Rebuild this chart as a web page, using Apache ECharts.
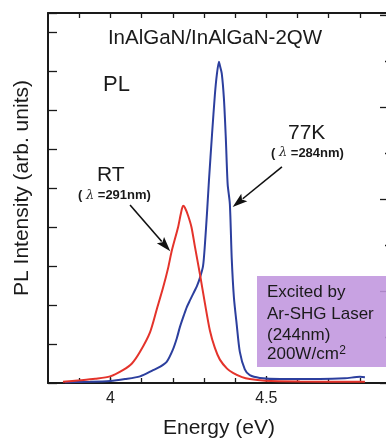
<!DOCTYPE html>
<html>
<head>
<meta charset="utf-8">
<script src="https://cdn.jsdelivr.net/npm/echarts@6/dist/echarts.min.js"></script>
<style>
  html, body { margin: 0; padding: 0; background: #ffffff; }
  #chart { width: 386px; height: 441px; }
</style>
</head>
<body>
<div id="chart"></div>
<script>
// Room-temperature PL spectrum: photon energy (eV) and intensity (arb. units)
const rtEnergy = [3.848, 3.903, 3.951, 3.999, 4.040, 4.069, 4.095, 4.127, 4.149, 4.169, 4.185,
  4.197, 4.217, 4.226, 4.233, 4.239, 4.249, 4.260, 4.271, 4.287, 4.303, 4.319, 4.335, 4.351,
  4.374, 4.393, 4.422, 4.447, 4.495, 4.608, 4.816];
const rtIntensity = [0.03, 0.07, 0.11, 0.17, 0.33, 0.50, 0.80, 1.30, 1.90, 2.45, 2.95,
  3.40, 4.00, 4.35, 4.55, 4.50, 4.30, 4.00, 3.50, 2.80, 2.05, 1.35, 0.90, 0.60,
  0.37, 0.26, 0.15, 0.10, 0.06, 0.04, 0.03];

// 77 K PL spectrum
const lt77Energy = [3.854, 3.935, 3.999, 4.047, 4.095, 4.137, 4.160, 4.181, 4.200, 4.213, 4.223,
  4.236, 4.245, 4.255, 4.266, 4.278, 4.287, 4.297, 4.303, 4.310, 4.316, 4.326, 4.335, 4.341,
  4.348, 4.351, 4.357, 4.364, 4.370, 4.376, 4.383, 4.389, 4.396, 4.405, 4.415, 4.431, 4.447,
  4.479, 4.544, 4.672, 4.752, 4.800, 4.816];
const lt77Intensity = [0.02, 0.03, 0.05, 0.10, 0.17, 0.33, 0.42, 0.55, 0.85, 1.15, 1.44,
  1.75, 1.95, 2.12, 2.30, 2.50, 2.70, 3.00, 3.55, 4.40, 5.20, 6.40, 7.40, 7.90,
  8.25, 8.15, 7.95, 7.30, 6.30, 5.10, 4.60, 3.20, 2.20, 1.50, 0.80, 0.35, 0.20,
  0.13, 0.10, 0.10, 0.12, 0.16, 0.15];

// Energy axis ticks and labels
const xTickValues = [3.9, 4.0, 4.1, 4.2, 4.3, 4.4, 4.5, 4.6, 4.7, 4.8];
const xLabelValues = [4.0, 4.5];

// Arrow annotations: [start energy, start intensity, tip energy, tip intensity]
const rtArrow = [4.063, 4.57, 4.192, 3.38];
const lt77Arrow = [4.55, 5.55, 4.392, 4.52];

const FONT = '"Liberation Sans", Arial, Helvetica, sans-serif';
const chart = echarts.init(document.getElementById('chart'), null, { renderer: 'canvas' });

function zip(a, b) { return a.map((v, i) => [v, b[i]]); }

const axisLineStyle = { color: '#1a1a1a', width: 2 };

const option = {
  backgroundColor: '#ffffff',
  animation: false,
  grid: { left: 48, top: 13, width: 340, height: 370, containLabel: false, outerBoundsMode: 'none' },
  xAxis: [
    {
      type: 'value', position: 'bottom', min: 3.8, max: 4.89,
      axisLine: { show: true, lineStyle: axisLineStyle },
      axisTick: { show: true, inside: true, length: 5, customValues: xTickValues,
        lineStyle: { color: '#1a1a1a', width: 1.3 } },
      axisLabel: { show: true, customValues: xLabelValues, margin: 8,
        formatter: v => String(+(+v).toFixed(1)),
        color: '#222', fontFamily: FONT, fontSize: 16 },
      splitLine: { show: false }
    },
    {
      type: 'value', position: 'bottom', min: 3.8, max: 4.89,
      axisLine: { show: false },
      axisTick: { show: true, inside: true, length: 7, customValues: xLabelValues,
        lineStyle: { color: '#1a1a1a', width: 1.3 } },
      axisLabel: { show: false },
      splitLine: { show: false }
    },
    {
      type: 'value', position: 'top', min: 3.8, max: 4.89,
      axisLine: { show: true, lineStyle: axisLineStyle },
      axisTick: { show: true, inside: true, length: 5, customValues: xTickValues,
        lineStyle: { color: '#1a1a1a', width: 1.3 } },
      axisLabel: { show: false },
      splitLine: { show: false }
    }
  ],
  yAxis: [
    {
      type: 'value', position: 'left', min: 0, max: 9.5, interval: 1,
      axisLine: { show: true, lineStyle: axisLineStyle },
      axisTick: { show: true, inside: true, length: 9, lineStyle: { color: '#1a1a1a', width: 1.3 } },
      axisLabel: { show: false },
      splitLine: { show: false }
    },
    {
      type: 'value', position: 'right', min: 0, max: 4.02, interval: 1,
      axisLine: { show: true, lineStyle: axisLineStyle },
      axisTick: { show: true, inside: true, length: 8, lineStyle: { color: '#1a1a1a', width: 1.3 } },
      minorTick: { show: true, splitNumber: 2, length: 3, lineStyle: { color: '#1a1a1a', width: 1.3 } },
      axisLabel: { show: false },
      splitLine: { show: false }
    }
  ],
  series: [
    {
      name: 'RT', type: 'line', xAxisIndex: 0, yAxisIndex: 0,
      data: zip(rtEnergy, rtIntensity),
      showSymbol: false, smooth: 0.25, z: 3,
      lineStyle: { color: '#e4332b', width: 2 }
    },
    {
      name: '77K', type: 'line', xAxisIndex: 0, yAxisIndex: 0,
      data: zip(lt77Energy, lt77Intensity),
      showSymbol: false, smooth: 0.25, z: 2,
      lineStyle: { color: '#2c3f9e', width: 2 }
    }
  ]
};

chart.setOption(option);

// Arrow with filled head, positioned through the axes' own scales
function arrow(spec) {
  const p0 = chart.convertToPixel({ xAxisIndex: 0, yAxisIndex: 0 }, [spec[0], spec[1]]);
  const p1 = chart.convertToPixel({ xAxisIndex: 0, yAxisIndex: 0 }, [spec[2], spec[3]]);
  const dx = p1[0] - p0[0], dy = p1[1] - p0[1];
  const len = Math.hypot(dx, dy);
  const ux = dx / len, uy = dy / len;
  const headLen = 15, headHalf = 4.8;
  const bx = p1[0] - ux * headLen, by = p1[1] - uy * headLen;
  return [
    { type: 'line', z: 10, silent: true,
      shape: { x1: p0[0], y1: p0[1], x2: bx + ux * 2, y2: by + uy * 2 },
      style: { stroke: '#111', lineWidth: 1.6 } },
    { type: 'polygon', z: 10, silent: true,
      shape: { points: [[p1[0], p1[1]],
        [bx - uy * headHalf, by + ux * headHalf],
        [bx + ux * 3, by + uy * 3],
        [bx + uy * headHalf, by - ux * headHalf]] },
      style: { fill: '#111' } }
  ];
}

function label(x, y, text, size, align) {
  return {
    type: 'text', x: x, y: y, z: 12, silent: true,
    style: { text: text, fill: '#1a1a1a', font: size + 'px ' + FONT,
      align: align || 'left', verticalAlign: 'middle' }
  };
}

function lambdaLabel(x, y, value) {
  return {
    type: 'text', x: x, y: y, z: 12, silent: true,
    style: {
      text: '{p|( }{l|λ}{p| =' + value + 'nm)}',
      align: 'left', verticalAlign: 'middle',
      rich: {
        p: { fontFamily: FONT, fontWeight: 'bold', fontSize: 13, fill: '#1a1a1a' },
        l: { fontFamily: '"DejaVu Serif", serif', fontStyle: 'italic', fontSize: 13, fill: '#333' }
      }
    }
  };
}

// Width of a text run, used to place the superscript after "cm"
function textWidth(text, font) {
  const ctx = document.createElement('canvas').getContext('2d');
  ctx.font = font;
  return ctx.measureText(text).width;
}

const boxFont = '17px ' + FONT;
const powerText = '200W/cm';
const powerX = 267;

const graphics = [].concat(
  arrow(rtArrow),
  arrow(lt77Arrow),
  [
    // Excitation conditions box
    { type: 'rect', z: 11, silent: true,
      shape: { x: 257, y: 276, width: 140, height: 91 },
      style: { fill: 'rgba(192,149,222,0.88)' } },
    label(267, 292.5, 'Excited by', 17),
    label(267, 314, 'Ar-SHG Laser', 17),
    label(267, 335.5, '(244nm)', 17),
    label(powerX, 354.5, powerText, 17),
    label(powerX + textWidth(powerText, boxFont) + 0.5, 351, '2', 12),
    // Title and curve labels
    label(215, 38, 'InAlGaN/InAlGaN-2QW', 20.5, 'center'),
    label(103, 85, 'PL', 22),
    label(288, 133, '77K', 21),
    lambdaLabel(271, 153, '284'),
    label(97, 175, 'RT', 21),
    lambdaLabel(78, 195.5, '291'),
    // Axis titles
    label(219, 428, 'Energy (eV)', 21, 'center'),
    { type: 'text', x: 22, y: 188, rotation: Math.PI / 2, z: 12, silent: true,
      style: { text: 'PL Intensity (arb. units)', fill: '#1a1a1a', font: '21px ' + FONT,
        align: 'center', verticalAlign: 'middle' } }
  ]
);

chart.setOption({ graphic: graphics });
</script>
</body>
</html>
